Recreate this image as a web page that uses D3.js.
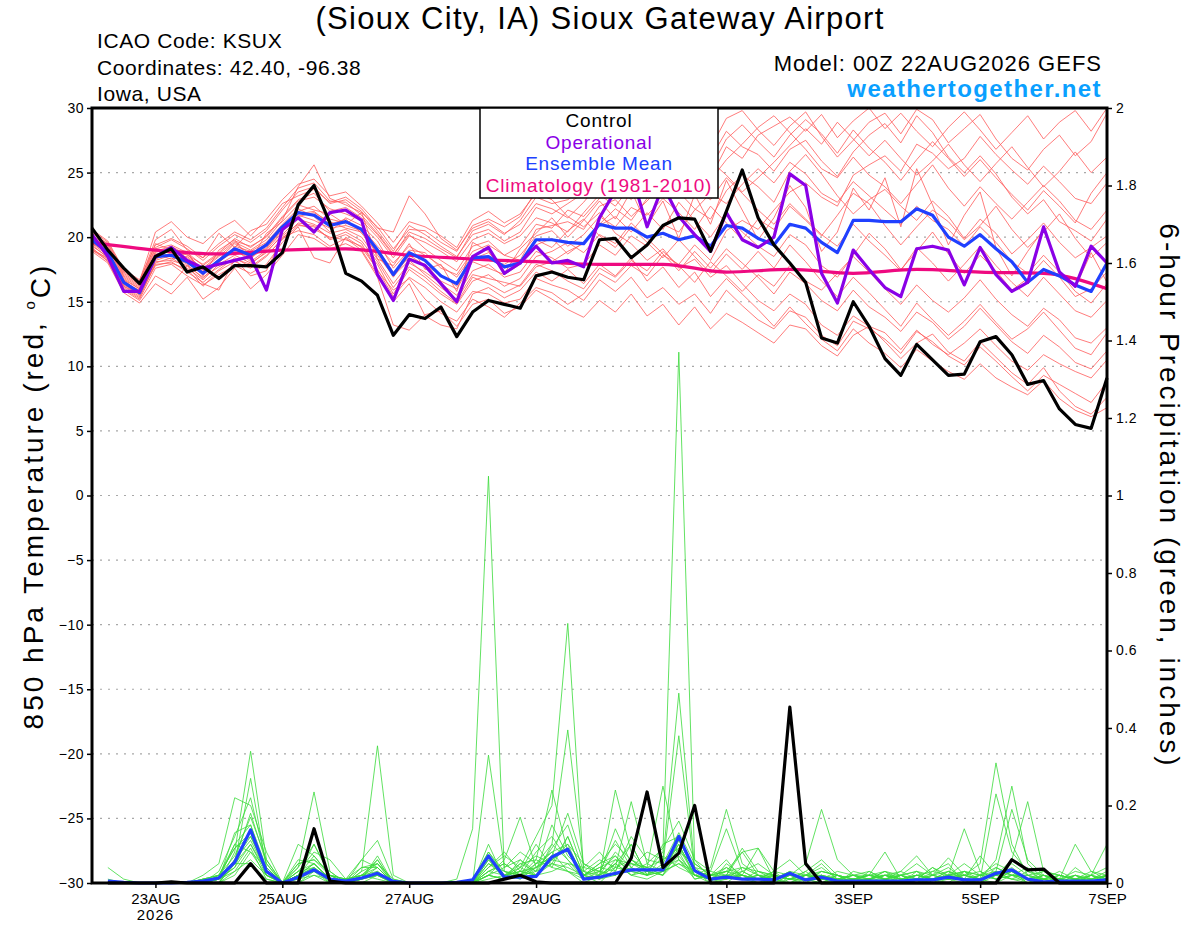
<!DOCTYPE html>
<html>
<head>
<meta charset="utf-8">
<script src="https://cdn.jsdelivr.net/npm/d3@7/dist/d3.min.js"></script>
<style>
    body { margin: 0; background: #fff; }
    svg { font-family: "Liberation Sans", Arial, Helvetica, sans-serif; }
    .axis text { font-size: 14px; letter-spacing: 0.5px; fill: #000; }
    .axis line { stroke: #000; stroke-width: 1.5; }
    .axis path { display: none; }
</style>
</head>
<body>
<div id="chart"></div>
<script>
// ---- data (6-hourly from 00Z 22AUG2026) ----
var runStart = Date.UTC(2026, 7, 22, 0);
var stepHours = 6;

var controlTemp = [20.7, 19.0, 17.6, 16.4, 18.5, 19.1, 17.3, 17.7, 16.8, 17.8, 17.8, 17.7, 18.8, 22.5, 24.0, 21.1, 17.2, 16.6, 15.5, 12.4, 14.0, 13.7, 14.6, 12.3, 14.2, 15.1, 14.8, 14.5, 17.0, 17.3, 16.9, 16.7, 19.8, 19.9, 18.4, 19.4, 20.9, 21.5, 21.4, 18.9, 22.0, 25.2, 21.5, 19.4, 18.0, 16.5, 12.2, 11.8, 15.0, 13.1, 10.6, 9.3, 11.7, 10.5, 9.3, 9.4, 11.9, 12.3, 10.9, 8.6, 8.9, 6.7, 5.5, 5.2, 9.1];
var operTemp = [20.2, 18.5, 15.8, 15.8, 18.5, 19.2, 18.2, 17.6, 17.9, 18.2, 18.5, 15.9, 20.6, 21.5, 20.4, 21.9, 22.1, 21.3, 17.1, 15.1, 18.3, 17.8, 16.4, 15.0, 18.5, 19.2, 17.2, 18.0, 19.3, 18.0, 18.2, 17.7, 21.5, 23.6, 25.0, 20.8, 24.0, 21.6, 20.2, 18.9, 21.9, 19.8, 19.2, 20.0, 24.9, 24.0, 17.2, 14.9, 19.0, 17.5, 16.1, 15.4, 19.1, 19.3, 19.0, 16.3, 19.2, 17.1, 15.8, 16.5, 20.8, 17.3, 16.2, 19.3, 18.0];
var meanTemp = [19.8, 18.8, 16.5, 15.7, 18.5, 18.6, 18.1, 17.2, 18.2, 19.1, 18.6, 19.4, 20.8, 21.9, 21.7, 20.9, 21.2, 20.6, 19.0, 17.1, 18.8, 18.2, 17.0, 16.4, 18.4, 18.5, 17.7, 18.0, 19.8, 19.8, 19.6, 19.5, 21.0, 20.7, 20.7, 20.0, 20.3, 19.8, 20.1, 19.3, 20.9, 20.7, 19.9, 19.4, 21.0, 20.7, 19.6, 18.8, 21.3, 21.3, 21.2, 21.2, 22.2, 21.7, 20.0, 19.3, 20.2, 19.1, 18.1, 16.5, 17.5, 17.0, 16.3, 15.8, 18.0];
// climatology, one value per day at 00Z
var climTemp = [19.6, 19.0, 18.7, 19.0, 19.1, 18.6, 18.3, 18.1, 17.9, 17.9, 17.3, 17.5, 17.2, 17.5, 17.3, 17.2, 16.0];

var tempMembers = [
    [19.5, 18.9, 16.8, 16.0, 18.9, 19.3, 18.6, 17.9, 18.8, 19.9, 19.2, 20.1, 21.6, 22.9, 23.4, 22.0, 22.3, 21.5, 20.2, 18.6, 20.4, 19.9, 19.1, 18.4, 20.5, 21.0, 20.2, 21.3, 23.1, 22.6, 22.9, 23.8, 25.1, 24.6, 26.3, 25.0, 26.9, 25.7, 27.4, 26.1, 28.2, 27.0, 26.4, 25.1, 26.8, 27.5, 25.9, 24.7, 26.6, 27.9, 28.8, 27.3, 29.4, 28.1, 26.2, 25.0, 26.3, 24.9, 23.1, 21.8, 22.9, 21.2, 20.5, 19.7, 21.4],
    [19.0, 18.2, 16.0, 15.2, 17.6, 17.9, 17.0, 16.3, 17.1, 17.8, 17.2, 17.9, 19.6, 20.8, 18.4, 18.0, 20.0, 19.2, 17.5, 15.4, 16.9, 16.1, 15.0, 14.2, 15.8, 15.6, 14.9, 15.2, 16.8, 16.3, 15.9, 15.1, 16.7, 15.8, 16.9, 15.3, 16.1, 14.8, 15.6, 14.1, 15.9, 14.7, 13.6, 12.9, 14.3, 13.8, 12.4, 11.6, 13.5, 12.9, 12.1, 11.0, 12.7, 11.9, 10.8, 10.1, 11.5, 10.4, 9.2, 8.1, 9.3, 8.6, 7.9, 7.2, 8.8],
    [20.2, 19.3, 17.1, 16.3, 19.5, 19.0, 18.9, 17.0, 19.0, 19.8, 18.2, 20.3, 21.2, 22.5, 22.1, 21.8, 21.0, 21.9, 18.3, 17.8, 19.5, 17.5, 17.9, 15.8, 19.6, 18.9, 17.2, 19.1, 20.3, 21.5, 20.0, 21.3, 22.8, 21.4, 23.6, 20.9, 22.8, 19.9, 23.3, 21.0, 24.4, 22.1, 19.8, 21.5, 24.0, 22.3, 18.9, 20.4, 23.8, 22.1, 24.6, 20.8, 25.3, 22.5, 19.4, 21.7, 23.5, 19.2, 17.0, 18.9, 20.6, 17.4, 16.1, 18.8, 16.5],
    [19.3, 18.5, 16.2, 15.4, 17.9, 18.0, 17.5, 16.2, 17.4, 18.1, 17.6, 18.5, 19.9, 21.1, 20.9, 19.8, 20.2, 19.5, 17.4, 15.9, 16.8, 15.2, 14.1, 13.5, 15.2, 14.6, 13.8, 14.9, 16.1, 15.7, 14.8, 15.6, 17.2, 16.5, 17.8, 17.0, 18.6, 17.9, 19.4, 18.2, 20.5, 21.3, 20.6, 22.1, 23.5, 24.2, 23.1, 22.4, 24.8, 25.6, 26.3, 25.1, 27.2, 26.5, 25.3, 26.1, 27.8, 26.4, 25.2, 24.1, 25.5, 24.3, 23.0, 22.6, 24.2],
    [20.5, 19.6, 17.4, 16.6, 20.4, 21.2, 20.0, 19.5, 20.6, 21.3, 20.1, 21.4, 22.9, 24.1, 24.5, 23.2, 23.5, 22.4, 21.1, 19.6, 21.2, 20.8, 20.1, 19.2, 21.3, 22.0, 21.1, 21.8, 23.4, 22.9, 21.6, 20.8, 21.9, 20.3, 19.5, 18.2, 19.1, 17.6, 18.3, 16.9, 17.8, 16.4, 15.1, 14.3, 15.6, 14.8, 13.2, 12.4, 13.9, 13.1, 12.6, 11.3, 12.8, 11.7, 10.9, 11.8, 12.9, 11.6, 10.4, 9.7, 10.9, 10.2, 9.6, 9.1, 10.5],
    [19.8, 18.6, 16.5, 15.9, 18.3, 18.8, 18.0, 17.1, 18.0, 19.3, 18.9, 19.6, 21.0, 22.2, 21.6, 20.4, 21.5, 20.9, 19.7, 17.6, 19.0, 18.8, 17.6, 17.1, 18.9, 19.4, 18.6, 18.2, 20.6, 20.9, 21.2, 20.6, 22.4, 22.9, 21.6, 22.8, 24.1, 23.5, 22.2, 21.4, 23.6, 24.8, 23.9, 22.7, 25.1, 26.4, 24.9, 23.2, 21.8, 22.9, 23.7, 22.4, 21.3, 22.8, 21.6, 19.9, 21.4, 20.3, 18.7, 19.8, 21.1, 19.6, 18.4, 19.2, 20.1],
    [19.6, 18.7, 16.6, 15.8, 18.6, 19.1, 18.4, 17.5, 18.5, 19.6, 19.0, 19.8, 21.3, 23.9, 25.6, 23.0, 22.5, 21.9, 20.8, 19.1, 20.6, 20.5, 19.6, 18.9, 20.9, 21.4, 20.8, 21.6, 23.6, 23.9, 24.6, 25.3, 26.8, 27.5, 28.9, 27.2, 28.4, 29.6, 28.1, 26.9, 29.2, 29.8, 28.3, 27.1, 28.6, 29.7, 27.8, 26.2, 27.5, 28.9, 29.6, 28.0, 29.9, 29.1, 27.3, 28.4, 29.5, 27.6, 26.1, 25.2, 26.8, 27.9, 26.3, 27.4, 29.6],
    [18.9, 18.0, 15.7, 14.9, 16.4, 15.6, 16.9, 15.2, 16.1, 17.6, 16.0, 17.1, 18.6, 20.2, 19.9, 19.1, 19.5, 18.9, 16.9, 13.2, 12.8, 14.0, 14.3, 13.1, 14.8, 15.2, 14.1, 14.6, 15.9, 15.2, 14.4, 13.8, 15.1, 14.2, 15.6, 13.9, 14.8, 13.2, 14.6, 12.9, 14.1, 13.4, 12.6, 11.8, 13.2, 12.9, 11.6, 10.8, 12.4, 13.1, 11.9, 10.6, 11.8, 12.5, 11.1, 10.4, 11.9, 10.7, 9.5, 8.6, 9.9, 8.1, 6.9, 6.3, 7.6],
    [20.0, 19.1, 16.9, 16.1, 18.8, 18.5, 18.7, 17.4, 18.1, 18.9, 18.4, 19.2, 20.5, 21.6, 21.9, 21.2, 20.7, 20.4, 19.1, 17.3, 18.4, 17.9, 16.6, 16.0, 18.1, 17.6, 17.1, 17.9, 19.4, 19.9, 18.7, 19.6, 20.9, 21.6, 20.4, 21.9, 20.6, 22.7, 21.3, 20.0, 21.8, 20.4, 19.3, 18.5, 20.2, 19.4, 17.8, 16.9, 18.6, 20.3, 19.1, 17.5, 18.9, 20.4, 18.7, 17.2, 18.6, 17.4, 15.9, 16.8, 18.2, 16.9, 15.4, 16.0, 17.3],
    [19.4, 18.4, 16.1, 15.3, 18.0, 18.4, 17.6, 16.7, 17.9, 18.6, 18.0, 18.8, 20.2, 21.4, 21.0, 20.3, 20.6, 20.0, 18.3, 16.4, 18.0, 17.3, 16.4, 15.5, 17.4, 17.9, 16.9, 17.3, 18.9, 18.4, 17.6, 17.9, 19.4, 18.6, 20.1, 19.3, 21.0, 20.4, 22.1, 23.4, 22.6, 24.1, 25.3, 24.2, 25.8, 24.9, 23.4, 22.7, 24.3, 23.2, 22.1, 21.0, 22.4, 21.3, 20.6, 19.3, 20.8, 19.6, 18.1, 17.2, 18.6, 17.3, 15.8, 14.9, 16.4],
    [20.4, 19.4, 17.2, 16.4, 19.2, 19.8, 19.1, 18.2, 19.3, 20.2, 19.6, 20.5, 22.1, 23.5, 23.9, 22.6, 22.9, 22.0, 20.5, 18.9, 20.9, 20.2, 19.3, 18.5, 20.2, 20.6, 19.7, 20.4, 22.3, 21.8, 22.6, 23.4, 24.6, 25.9, 24.8, 26.5, 27.8, 26.3, 25.1, 24.4, 26.0, 27.2, 28.5, 29.4, 28.1, 26.8, 25.3, 24.6, 26.2, 24.8, 23.9, 22.6, 24.1, 25.6, 23.8, 22.4, 23.9, 22.6, 21.4, 22.7, 24.0, 22.8, 21.3, 20.6, 22.1],
    [19.1, 18.3, 16.3, 15.6, 18.1, 18.2, 17.8, 16.9, 17.7, 18.3, 17.9, 18.9, 20.1, 21.0, 20.6, 20.0, 19.8, 19.3, 17.9, 15.6, 17.5, 16.6, 15.6, 14.8, 16.6, 17.1, 16.2, 16.8, 18.5, 18.9, 19.6, 18.8, 20.2, 19.5, 21.1, 19.9, 18.7, 17.4, 18.9, 17.6, 19.1, 18.0, 16.9, 15.6, 17.3, 16.4, 15.1, 14.3, 15.9, 14.6, 13.8, 12.7, 14.2, 13.4, 12.1, 13.1, 14.5, 13.2, 11.9, 11.0, 12.4, 11.5, 10.3, 9.8, 11.2],
    [19.7, 18.8, 16.7, 15.7, 18.4, 18.7, 18.2, 17.3, 18.3, 19.5, 18.7, 19.5, 20.9, 22.0, 22.4, 21.4, 21.1, 20.7, 19.3, 18.0, 19.3, 18.6, 17.8, 16.9, 18.6, 18.2, 17.9, 18.6, 20.1, 20.5, 19.3, 20.2, 21.6, 20.8, 22.3, 21.7, 23.0, 21.9, 20.6, 22.4, 21.1, 19.8, 21.4, 20.6, 22.4, 21.3, 20.1, 21.7, 23.4, 22.6, 20.9, 19.4, 20.8, 22.1, 21.2, 19.8, 20.9, 22.4, 20.6, 19.2, 20.4, 21.8, 19.9, 18.4, 19.6],
    [19.2, 18.1, 15.9, 15.1, 17.0, 16.3, 17.8, 16.4, 15.9, 18.3, 17.0, 17.4, 20.0, 20.5, 20.2, 19.3, 19.9, 19.0, 17.1, 15.0, 16.4, 13.9, 13.2, 12.9, 15.6, 16.1, 15.3, 15.9, 17.3, 16.6, 17.5, 16.4, 17.9, 17.0, 18.4, 16.6, 17.7, 16.1, 17.3, 15.4, 16.8, 15.6, 14.4, 13.1, 14.6, 13.3, 12.1, 11.2, 12.9, 11.8, 11.0, 9.9, 11.3, 10.4, 9.6, 9.0, 10.2, 9.1, 8.4, 7.8, 8.9, 7.5, 6.6, 6.1, 6.8],
    [20.1, 19.2, 17.0, 16.2, 19.1, 19.4, 18.8, 17.8, 18.7, 19.7, 19.3, 20.0, 21.5, 22.8, 23.1, 22.2, 21.8, 21.3, 20.0, 18.4, 20.1, 19.6, 18.9, 18.1, 19.8, 20.3, 19.5, 20.1, 21.5, 21.1, 20.4, 21.9, 23.3, 22.4, 24.0, 23.1, 24.9, 24.0, 25.8, 24.6, 27.0, 26.1, 27.9, 28.6, 29.3, 28.2, 29.5, 27.7, 29.0, 30.0, 28.4, 29.6, 28.2, 27.0, 28.5, 29.7, 28.3, 26.8, 28.1, 29.4, 27.6, 28.9, 29.8, 28.2, 30.0],
    [19.9, 19.0, 16.7, 16.0, 18.7, 18.3, 18.5, 17.6, 18.6, 19.0, 18.5, 19.1, 20.7, 21.8, 22.0, 21.0, 21.4, 20.3, 18.8, 16.9, 18.6, 17.8, 17.1, 16.2, 18.3, 18.8, 17.6, 18.1, 19.8, 19.2, 20.5, 21.4, 20.1, 19.2, 20.8, 19.6, 18.4, 19.8, 18.5, 17.2, 18.7, 17.5, 18.9, 17.6, 19.4, 18.1, 16.6, 15.4, 16.9, 15.7, 14.4, 13.1, 14.9, 13.6, 12.4, 13.5, 14.8, 13.4, 12.1, 12.9, 14.2, 12.8, 11.4, 10.9, 12.6],
    [20.3, 19.5, 17.3, 16.5, 19.8, 20.6, 19.0, 18.4, 20.3, 19.2, 20.5, 21.0, 22.6, 23.2, 23.7, 22.7, 23.1, 22.2, 20.7, 20.4, 23.2, 21.8, 19.9, 19.0, 20.7, 21.2, 20.3, 21.0, 22.6, 22.2, 21.5, 22.7, 24.2, 23.3, 25.0, 24.2, 26.0, 24.9, 23.7, 22.9, 24.6, 23.4, 22.1, 21.0, 22.6, 21.4, 20.2, 19.3, 21.0, 19.7, 18.6, 17.4, 19.2, 18.0, 16.6, 17.9, 19.3, 17.8, 16.5, 15.4, 16.9, 15.6, 14.3, 13.8, 15.1],
    [19.5, 18.6, 16.4, 15.5, 18.2, 18.6, 17.9, 16.8, 18.2, 19.1, 18.1, 19.0, 20.4, 21.7, 21.3, 20.7, 20.9, 20.5, 18.6, 17.0, 18.2, 17.1, 16.1, 15.2, 17.1, 16.8, 16.5, 16.2, 17.7, 18.1, 18.9, 19.5, 21.0, 22.2, 21.3, 23.0, 24.4, 25.3, 24.2, 25.9, 24.8, 23.5, 24.6, 25.8, 27.1, 28.4, 27.2, 28.9, 27.6, 26.3, 27.5, 26.1, 24.8, 25.9, 27.2, 25.6, 24.3, 25.7, 27.0, 25.4, 23.9, 25.1, 26.6, 25.0, 26.2],
    [19.0, 18.4, 16.2, 15.6, 17.8, 18.1, 17.3, 16.5, 17.5, 18.4, 17.7, 18.6, 19.8, 20.9, 20.8, 19.9, 20.4, 19.7, 18.1, 16.1, 17.7, 16.9, 15.8, 14.9, 16.9, 16.4, 15.7, 16.3, 17.9, 17.4, 16.6, 16.0, 17.6, 16.9, 18.2, 17.4, 18.9, 17.8, 16.5, 18.1, 17.0, 15.8, 17.1, 16.2, 17.8, 16.6, 15.9, 17.2, 18.5, 17.3, 16.0, 14.8, 16.3, 15.1, 14.2, 15.3, 16.7, 15.2, 14.0, 13.1, 14.5, 13.6, 12.2, 11.8, 13.0],
    [20.6, 19.7, 17.5, 16.7, 19.4, 19.9, 19.3, 18.4, 19.5, 20.4, 19.8, 20.7, 22.3, 23.8, 24.2, 22.8, 22.7, 21.7, 20.3, 18.7, 20.2, 19.1, 18.2, 17.4, 19.3, 19.7, 18.6, 19.3, 21.0, 20.7, 22.1, 21.6, 23.0, 24.1, 22.9, 24.6, 23.3, 25.1, 26.6, 25.3, 27.6, 28.7, 27.4, 26.2, 27.9, 29.1, 28.0, 26.5, 28.3, 26.9, 25.8, 24.4, 26.0, 27.4, 26.1, 24.7, 26.0, 24.6, 23.3, 22.1, 23.6, 22.4, 21.1, 23.4, 25.0]
];

// 6-hour precipitation (inches), first value is 06Z 22AUG
var controlPrecip = [0, 0, 0, 0, 0.003, 0, 0, 0, 0, 0.05, 0, 0, 0, 0.14, 0.005, 0, 0, 0, 0, 0, 0, 0, 0, 0, 0, 0.01, 0.02, 0.003, 0, 0, 0, 0, 0, 0.064, 0.235, 0.04, 0.077, 0.2, 0, 0, 0, 0, 0, 0.454, 0.05, 0, 0, 0, 0, 0, 0, 0, 0, 0, 0, 0, 0, 0.06, 0.034, 0.036, 0, 0, 0, 0];
var meanPrecip = [0.005, 0.002, 0, 0, 0, 0.002, 0.005, 0.013, 0.054, 0.137, 0.03, 0, 0.015, 0.034, 0.01, 0.005, 0.013, 0.025, 0.004, 0, 0, 0, 0.002, 0.008, 0.07, 0.015, 0.015, 0.017, 0.067, 0.087, 0.01, 0.015, 0.025, 0.034, 0.034, 0.034, 0.12, 0.032, 0.01, 0.015, 0.01, 0.01, 0.008, 0.025, 0.008, 0.015, 0.005, 0.005, 0.005, 0.005, 0.005, 0.008, 0.008, 0.015, 0.008, 0.008, 0.025, 0.034, 0.01, 0.003, 0.005, 0.005, 0.005, 0.008];

var precipMembers = [
    [0.04, 0.01, 0, 0, 0, 0, 0, 0, 0.08, 0.34, 0.06, 0, 0.02, 0.05, 0.01, 0, 0.01, 0.04, 0, 0, 0, 0, 0.01, 0.14, 1.05, 0.03, 0.02, 0.05, 0.08, 0.03, 0, 0.02, 0.05, 0.02, 0.01, 0.03, 0.1, 0.02, 0, 0.01, 0.02, 0, 0.01, 0, 0.02, 0.05, 0.01, 0, 0, 0.02, 0, 0.01, 0, 0.02, 0.01, 0, 0.03, 0.01, 0, 0.02, 0, 0.01, 0, 0.02],
    [0.01, 0, 0, 0, 0, 0, 0.01, 0.02, 0.05, 0.27, 0.04, 0, 0, 0.02, 0, 0, 0, 0.02, 0, 0, 0, 0, 0, 0, 0.02, 0.01, 0.06, 0.03, 0.05, 0.12, 0.02, 0, 0.04, 0.06, 0.03, 0.08, 1.37, 0.06, 0.01, 0, 0.03, 0.01, 0, 0.02, 0.01, 0, 0.02, 0, 0.01, 0, 0.02, 0, 0.03, 0.05, 0, 0.01, 0, 0.02, 0.04, 0, 0.01, 0, 0.02, 0],
    [0, 0, 0, 0, 0, 0, 0, 0.01, 0.1, 0.15, 0.03, 0, 0.02, 0.1, 0.02, 0, 0.03, 0.354, 0.02, 0, 0, 0, 0, 0.01, 0.08, 0.02, 0.04, 0.12, 0.2, 0.67, 0.03, 0.01, 0.05, 0.1, 0.02, 0.04, 0.08, 0.01, 0.02, 0.06, 0.01, 0, 0.02, 0.01, 0, 0.03, 0.02, 0, 0.03, 0.01, 0, 0.02, 0.01, 0, 0.03, 0.02, 0.05, 0.03, 0, 0, 0.02, 0.01, 0, 0],
    [0, 0, 0, 0, 0, 0, 0, 0.03, 0.12, 0.22, 0.05, 0, 0.04, 0.235, 0.03, 0, 0.02, 0.05, 0, 0, 0, 0, 0, 0, 0.03, 0.05, 0.02, 0.04, 0.06, 0.1, 0.01, 0.02, 0.08, 0.04, 0.02, 0.1, 0.12, 0.03, 0, 0.05, 0.02, 0.01, 0.03, 0, 0.02, 0.01, 0, 0.01, 0.02, 0.03, 0, 0.01, 0.04, 0.01, 0.02, 0.05, 0.31, 0.1, 0.02, 0, 0.01, 0.02, 0, 0.01],
    [0, 0, 0, 0, 0, 0, 0.02, 0.05, 0.22, 0.2, 0.08, 0, 0.1, 0.07, 0.02, 0.01, 0.06, 0.11, 0.01, 0, 0, 0, 0, 0, 0.04, 0.08, 0.03, 0.02, 0.05, 0.03, 0.02, 0.05, 0.1, 0.06, 0.04, 0.06, 0.49, 0.04, 0.01, 0.02, 0.08, 0.02, 0.01, 0.03, 0, 0.02, 0.01, 0, 0.01, 0.02, 0.01, 0, 0.02, 0.01, 0.03, 0, 0.04, 0.02, 0.01, 0, 0.01, 0, 0.02, 0.04],
    [0, 0, 0, 0, 0, 0, 0, 0.01, 0.06, 0.18, 0.05, 0, 0.02, 0.04, 0.01, 0, 0.01, 0.07, 0, 0, 0, 0, 0, 0, 0.33, 0.04, 0.08, 0.05, 0.1, 0.395, 0.04, 0.03, 0.02, 0.05, 0.03, 0.02, 0.06, 0.02, 0.01, 0.03, 0.01, 0.02, 0, 0.01, 0.03, 0, 0.01, 0.02, 0, 0.01, 0.02, 0, 0.01, 0.03, 0.02, 0.01, 0.06, 0.25, 0.05, 0.01, 0, 0.01, 0.02, 0],
    [0, 0, 0, 0, 0, 0, 0.01, 0.02, 0.09, 0.12, 0.04, 0, 0.06, 0.05, 0.01, 0, 0.02, 0.06, 0, 0, 0, 0, 0, 0, 0.1, 0.01, 0.02, 0.06, 0.24, 0.08, 0.02, 0.01, 0.06, 0.03, 0.02, 0.05, 0.38, 0.03, 0.02, 0.01, 0.04, 0.03, 0.01, 0, 0.01, 0.02, 0, 0.03, 0.02, 0.01, 0, 0.03, 0, 0.01, 0, 0.02, 0.01, 0.03, 0, 0.02, 0, 0.04, 0.01, 0.03],
    [0, 0, 0, 0, 0, 0, 0, 0, 0.05, 0.1, 0.03, 0, 0.03, 0.08, 0.06, 0.01, 0.02, 0.03, 0, 0, 0, 0, 0, 0, 0.02, 0.06, 0.17, 0.04, 0.08, 0.1, 0.05, 0.02, 0.24, 0.08, 0.03, 0.04, 0.1, 0.02, 0.01, 0.02, 0.09, 0.03, 0.02, 0.01, 0.03, 0.06, 0.02, 0, 0.01, 0.03, 0.02, 0.05, 0.02, 0.065, 0.02, 0.01, 0.23, 0.08, 0.03, 0.01, 0, 0.02, 0.01, 0.02],
    [0, 0, 0, 0, 0, 0, 0.01, 0.02, 0.1, 0.08, 0.02, 0, 0.05, 0.06, 0.03, 0, 0.01, 0.02, 0, 0, 0, 0, 0, 0, 0.05, 0.03, 0.02, 0.08, 0.12, 0.06, 0.01, 0.02, 0.14, 0.05, 0.04, 0.25, 0.06, 0.03, 0.02, 0.04, 0.01, 0.02, 0, 0.02, 0.05, 0.19, 0.06, 0.02, 0.01, 0.02, 0.03, 0.07, 0.02, 0.03, 0.01, 0, 0.02, 0.06, 0.21, 0.03, 0.01, 0, 0.02, 0.01],
    [0, 0, 0, 0, 0, 0, 0, 0.01, 0.04, 0.14, 0.02, 0, 0.01, 0.03, 0, 0.01, 0.04, 0.05, 0.01, 0, 0, 0, 0, 0, 0.02, 0.01, 0.05, 0.03, 0.09, 0.15, 0.03, 0.06, 0.04, 0.21, 0.05, 0.03, 0.07, 0.02, 0.04, 0.19, 0.05, 0.02, 0.01, 0.02, 0.01, 0, 0.02, 0.01, 0.02, 0.08, 0.01, 0.02, 0.01, 0.02, 0.14, 0.03, 0.01, 0.02, 0, 0.01, 0.03, 0.01, 0, 0.02],
    [0, 0, 0, 0, 0, 0, 0, 0, 0.03, 0.09, 0.01, 0, 0.04, 0.1, 0.02, 0, 0.06, 0.04, 0, 0, 0, 0, 0, 0, 0.06, 0.02, 0.03, 0.1, 0.04, 0.12, 0.02, 0.04, 0.03, 0.12, 0.06, 0.05, 0.13, 0.05, 0.02, 0.03, 0.08, 0.09, 0.03, 0.06, 0.02, 0.01, 0.03, 0.02, 0.01, 0.02, 0.02, 0.03, 0.01, 0.02, 0.01, 0.07, 0.02, 0.01, 0.03, 0.02, 0.01, 0.1, 0.03, 0.01],
    [0, 0, 0, 0, 0, 0, 0, 0.02, 0.07, 0.17, 0.06, 0, 0.02, 0.07, 0.02, 0.01, 0.02, 0.04, 0, 0, 0, 0, 0, 0, 0.08, 0.03, 0.01, 0.04, 0.07, 0.18, 0.05, 0.03, 0.11, 0.04, 0.08, 0.06, 0.09, 0.04, 0.03, 0.02, 0.02, 0.01, 0.02, 0.01, 0.02, 0.04, 0.01, 0.02, 0.03, 0.01, 0.02, 0.01, 0.04, 0.02, 0.03, 0.02, 0.03, 0.19, 0.06, 0.02, 0.01, 0.02, 0, 0.01],
    [0, 0, 0, 0, 0, 0, 0.01, 0.01, 0.06, 0.12, 0.03, 0, 0.02, 0.04, 0.01, 0, 0.01, 0.06, 0, 0, 0, 0, 0, 0, 0.04, 0.07, 0.04, 0.02, 0.06, 0.09, 0.02, 0.05, 0.07, 0.03, 0.05, 0.09, 0.16, 0.06, 0.03, 0.14, 0.03, 0.05, 0.02, 0.01, 0.01, 0.02, 0.01, 0.02, 0.01, 0.03, 0.01, 0.02, 0.03, 0.02, 0.05, 0.02, 0.04, 0.02, 0.01, 0.03, 0.02, 0.01, 0.02, 0.1],
    [0, 0, 0, 0, 0, 0, 0, 0.01, 0.04, 0.1, 0.02, 0, 0.01, 0.02, 0.01, 0, 0.01, 0.03, 0, 0, 0, 0, 0, 0, 0.03, 0.05, 0.02, 0.03, 0.15, 0.07, 0.03, 0.02, 0.05, 0.02, 0.03, 0.04, 0.06, 0.01, 0.02, 0.03, 0.02, 0.01, 0.03, 0.02, 0.01, 0.02, 0, 0.01, 0.02, 0.01, 0.01, 0.02, 0.01, 0.03, 0.01, 0.01, 0.02, 0.05, 0.02, 0.01, 0, 0.02, 0.01, 0.02],
    [0, 0, 0, 0, 0, 0, 0, 0, 0.02, 0.08, 0.04, 0, 0, 0.03, 0.02, 0.01, 0.02, 0.02, 0, 0, 0, 0, 0, 0, 0.02, 0.04, 0.06, 0.02, 0.03, 0.05, 0.04, 0.08, 0.03, 0.1, 0.02, 0.03, 0.05, 0.03, 0.01, 0.04, 0.02, 0.09, 0.01, 0.03, 0.02, 0.03, 0.02, 0.01, 0.02, 0.01, 0.02, 0.03, 0.02, 0.01, 0.02, 0.03, 0.01, 0.02, 0.02, 0.03, 0.02, 0.01, 0.03, 0.02],
    [0, 0, 0, 0, 0, 0, 0, 0.01, 0.03, 0.06, 0.02, 0, 0.02, 0.05, 0.01, 0.01, 0.01, 0.02, 0, 0, 0, 0, 0, 0, 0.02, 0.01, 0.04, 0.07, 0.05, 0.04, 0.02, 0.01, 0.02, 0.06, 0.03, 0.02, 0.11, 0.03, 0.02, 0.02, 0.01, 0.02, 0.02, 0.01, 0.02, 0.01, 0.02, 0.01, 0.01, 0.02, 0.01, 0.01, 0.02, 0.04, 0.01, 0.02, 0.01, 0.03, 0.01, 0.02, 0.01, 0.03, 0.02, 0.01],
    [0, 0, 0, 0, 0, 0, 0, 0, 0.05, 0.05, 0.01, 0, 0.03, 0.04, 0, 0, 0.02, 0.01, 0, 0, 0, 0, 0, 0, 0.01, 0.02, 0.05, 0.06, 0.04, 0.03, 0.01, 0.03, 0.02, 0.04, 0.02, 0.07, 0.04, 0.02, 0.01, 0.01, 0.02, 0.01, 0.01, 0.02, 0.02, 0.01, 0.01, 0.02, 0.02, 0.01, 0.03, 0.01, 0.01, 0.02, 0.02, 0.01, 0.02, 0.01, 0.01, 0.02, 0.01, 0, 0.01, 0.02],
    [0, 0, 0, 0, 0, 0, 0, 0.01, 0.13, 0.15, 0.04, 0, 0.05, 0.06, 0.02, 0, 0.03, 0.05, 0, 0, 0, 0, 0, 0, 0.05, 0.02, 0.03, 0.02, 0.1, 0.06, 0.02, 0.04, 0.06, 0.05, 0.04, 0.02, 0.08, 0.05, 0.02, 0.03, 0.04, 0.02, 0.01, 0.02, 0.01, 0.03, 0.02, 0.01, 0.02, 0.02, 0.01, 0.02, 0.01, 0.02, 0.03, 0.01, 0.03, 0.02, 0.02, 0.01, 0.02, 0.01, 0, 0.01],
    [0, 0, 0, 0, 0, 0, 0, 0, 0.06, 0.11, 0.03, 0, 0.02, 0.03, 0.01, 0, 0.01, 0.02, 0, 0, 0, 0, 0, 0, 0.03, 0.02, 0.01, 0.05, 0.06, 0.05, 0.01, 0.02, 0.04, 0.03, 0.02, 0.03, 0.05, 0.02, 0.01, 0.02, 0.01, 0.03, 0.02, 0.01, 0.01, 0.01, 0.01, 0.01, 0.01, 0.01, 0.02, 0.01, 0.02, 0.01, 0.02, 0.01, 0.02, 0.04, 0.01, 0.01, 0.01, 0.01, 0.01, 0.01],
    [0, 0, 0, 0, 0, 0, 0, 0.02, 0.09, 0.13, 0.02, 0, 0.03, 0.05, 0.01, 0, 0.04, 0.04, 0, 0, 0, 0, 0, 0, 0.06, 0.01, 0.03, 0.04, 0.07, 0.09, 0.02, 0.03, 0.07, 0.02, 0.04, 0.03, 0.09, 0.02, 0.01, 0.02, 0.03, 0.01, 0.02, 0.01, 0.02, 0.02, 0.01, 0.01, 0.01, 0.02, 0.01, 0.02, 0.01, 0.01, 0.01, 0.02, 0.02, 0.03, 0.01, 0.01, 0.02, 0.01, 0.01, 0.02]
];

// axis ticks
var tempTicks = [-30, -25, -20, -15, -10, -5, 0, 5, 10, 15, 20, 25, 30];
var precipTicks = [0, 0.2, 0.4, 0.6, 0.8, 1, 1.2, 1.4, 1.6, 1.8, 2];
var dateTicks = ["2026-08-23", "2026-08-25", "2026-08-27", "2026-08-29", "2026-09-01", "2026-09-03", "2026-09-05", "2026-09-07"];
var dateLabels = ["23AUG", "25AUG", "27AUG", "29AUG", "1SEP", "3SEP", "5SEP", "7SEP"];

var legendItems = [
    {label: "Control", color: "#000000"},
    {label: "Operational", color: "#8a00e6"},
    {label: "Ensemble Mean", color: "#2040ff"},
    {label: "Climatology (1981-2010)", color: "#ee0a80"}
];

/**
 * Constructor for the ensemble meteogram
 */
function Meteogram(selector) {
    var self = this;
    self.selector = selector;
    self.width = 1200;
    self.height = 927;
    self.plot = {left: 92, right: 1107, top: 108, bottom: 883};
}

/**
 * Creates svg, scales and the header texts
 */
Meteogram.prototype.init = function () {
    var self = this;
    var p = self.plot;

    self.svg = d3.select(self.selector).append("svg")
        .attr("width", self.width)
        .attr("height", self.height);

    self.xScale = d3.scaleUtc()
        .domain([new Date(runStart), new Date(runStart + 16 * 24 * 3600 * 1000)])
        .range([p.left, p.right]);

    self.tScale = d3.scaleLinear().domain([-30, 30]).range([p.bottom, p.top]);
    self.pScale = d3.scaleLinear().domain([0, 2]).range([p.bottom, p.top]);

    // header
    self.svg.append("text")
        .attr("x", 600).attr("y", 29)
        .attr("text-anchor", "middle")
        .style("font-size", "31px")
        .style("letter-spacing", "1.3px")
        .text("(Sioux City, IA) Sioux Gateway Airport");

    var info = ["ICAO Code: KSUX", "Coordinates: 42.40, -96.38", "Iowa, USA"];
    self.svg.selectAll(".info").data(info).enter()
        .append("text")
        .attr("class", "info")
        .attr("x", 97)
        .attr("y", function (d, i) { return 48 + i * 26.5; })
        .style("font-size", "21px")
        .style("letter-spacing", "0.6px")
        .text(function (d) { return d; });

    self.svg.append("text")
        .attr("x", 1102).attr("y", 71)
        .attr("text-anchor", "end")
        .style("font-size", "22px")
        .style("letter-spacing", "1px")
        .text("Model: 00Z 22AUG2026 GEFS");

    self.svg.append("text")
        .attr("x", 1102).attr("y", 97)
        .attr("text-anchor", "end")
        .style("font-size", "24px")
        .style("letter-spacing", "1.4px")
        .style("font-weight", "bold")
        .style("fill", "#0aa0ff")
        .text("weathertogether.net");

    self.update();
};

/**
 * Draws grid, ensemble lines, axes and legend
 */
Meteogram.prototype.update = function () {
    var self = this;
    var p = self.plot;

    var timeAt = function (i) { return new Date(runStart + i * stepHours * 3600 * 1000); };

    var tLine = d3.line()
        .x(function (d, i) { return self.xScale(timeAt(i)); })
        .y(function (d) { return self.tScale(d); });

    // precip starts at the first 6h step
    var pLine = d3.line()
        .x(function (d, i) { return self.xScale(timeAt(i + 1)); })
        .y(function (d) { return self.pScale(d); });

    var climLine = d3.line()
        .curve(d3.curveMonotoneX)
        .x(function (d, i) { return self.xScale(timeAt(i * 4)); })
        .y(function (d) { return self.tScale(d); });

    // dotted grid on the temperature ticks
    self.svg.append("g").attr("id", "grid")
        .selectAll("line")
        .data(tempTicks.filter(function (d) { return d > -30 && d < 30; }))
        .enter().append("line")
        .attr("x1", p.left).attr("x2", p.right)
        .attr("y1", function (d) { return self.tScale(d); })
        .attr("y2", function (d) { return self.tScale(d); })
        .attr("stroke", "#a8a8a8")
        .attr("stroke-width", 1.2)
        .attr("stroke-dasharray", "2,6");

    // ensemble members
    self.svg.append("g").attr("id", "temp-members")
        .selectAll("path").data(tempMembers).enter()
        .append("path")
        .attr("d", tLine)
        .attr("fill", "none")
        .attr("stroke", "#ff5a5a")
        .attr("stroke-width", 0.8);

    self.svg.append("g").attr("id", "precip-members")
        .selectAll("path").data(precipMembers).enter()
        .append("path")
        .attr("d", pLine)
        .attr("fill", "none")
        .attr("stroke", "#3ada3a")
        .attr("stroke-width", 0.8);

    var thick = function (data, gen, color) {
        self.svg.append("path")
            .datum(data)
            .attr("d", gen)
            .attr("fill", "none")
            .attr("stroke", color)
            .attr("stroke-width", 3.2)
            .attr("stroke-linejoin", "round");
    };

    thick(climTemp, climLine, legendItems[3].color);
    thick(meanPrecip, pLine, legendItems[2].color);
    thick(controlPrecip, pLine, legendItems[0].color);
    thick(meanTemp, tLine, legendItems[2].color);
    thick(operTemp, tLine, legendItems[1].color);
    thick(controlTemp, tLine, legendItems[0].color);

    // axes
    self.svg.append("g")
        .attr("class", "axis")
        .attr("transform", "translate(" + p.left + ",0)")
        .call(d3.axisLeft(self.tScale).tickValues(tempTicks).tickSize(5).tickPadding(3).tickSizeOuter(0));

    self.svg.append("g")
        .attr("class", "axis")
        .attr("transform", "translate(" + p.right + ",0)")
        .call(d3.axisRight(self.pScale).tickValues(precipTicks).tickSize(5).tickPadding(4).tickSizeOuter(0)
            .tickFormat(d3.format("~g")));

    var xAxis = self.svg.append("g")
        .attr("class", "axis")
        .attr("transform", "translate(0," + p.bottom + ")")
        .call(d3.axisBottom(self.xScale)
            .tickValues(dateTicks.map(function (d) { return new Date(d + "T00:00:00Z"); }))
            .tickSize(5).tickPadding(5).tickSizeOuter(0)
            .tickFormat(function (d, i) { return dateLabels[i]; }));
    xAxis.selectAll("text").style("font-size", "15px").style("letter-spacing", "0px");

    self.svg.append("text")
        .attr("x", self.xScale(new Date(dateTicks[0] + "T00:00:00Z")))
        .attr("y", 920)
        .attr("text-anchor", "middle")
        .style("font-size", "15px")
        .style("letter-spacing", "1px")
        .text("2026");

    // frame
    self.svg.append("rect")
        .attr("x", p.left).attr("y", p.top)
        .attr("width", p.right - p.left).attr("height", p.bottom - p.top)
        .attr("fill", "none")
        .attr("stroke", "#000")
        .attr("stroke-width", 3);

    // axis titles
    var leftTitle = self.svg.append("text")
        .attr("transform", "translate(43,496) rotate(-90)")
        .attr("text-anchor", "middle")
        .style("font-size", "28px")
        .style("letter-spacing", "3px");
    leftTitle.append("tspan").text("850 hPa Temperature (red, ");
    leftTitle.append("tspan").attr("dy", "-0.55em").style("font-size", "15px").text("o");
    leftTitle.append("tspan").attr("dy", "0.55em").text("C)");

    self.svg.append("text")
        .attr("transform", "translate(1160,496) rotate(90)")
        .attr("text-anchor", "middle")
        .style("font-size", "28px")
        .style("letter-spacing", "3px")
        .text("6-hour Precipitation (green, inches)");

    // legend
    var legend = self.svg.append("g").attr("id", "legend");
    legend.append("rect")
        .attr("x", 480).attr("y", p.top)
        .attr("width", 238).attr("height", 90)
        .attr("fill", "#fff")
        .attr("stroke", "#000")
        .attr("stroke-width", 1.5);
    legend.selectAll("text").data(legendItems).enter()
        .append("text")
        .attr("x", 599)
        .attr("y", function (d, i) { return 127 + i * 21.7; })
        .attr("text-anchor", "middle")
        .style("font-size", "19px")
        .style("letter-spacing", "0.8px")
        .style("fill", function (d) { return d.color; })
        .text(function (d) { return d.label; });
};

var chart = new Meteogram("#chart");
chart.init();
</script>
</body>
</html>
